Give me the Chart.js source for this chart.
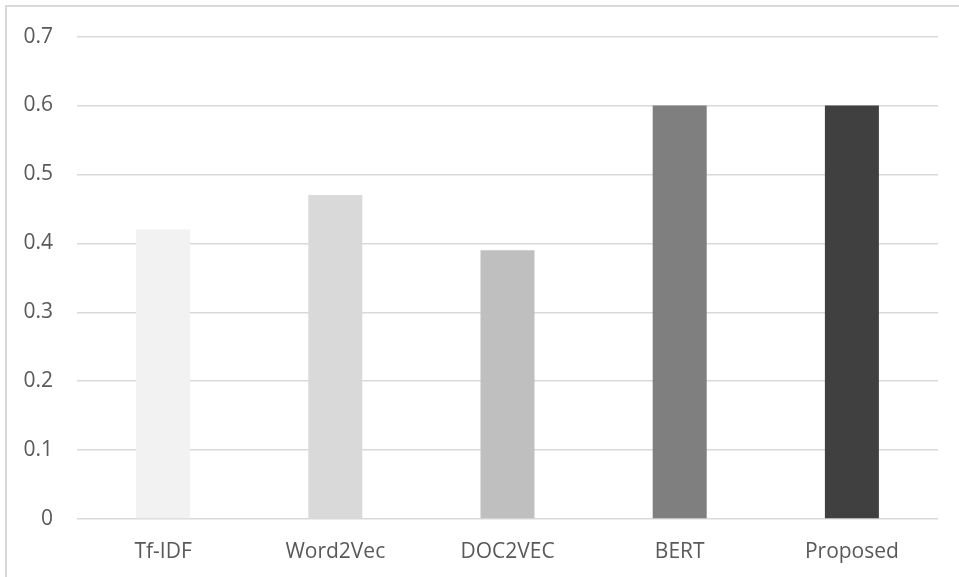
<!DOCTYPE html>
<html>
<head>
<meta charset="utf-8">
<script src="https://cdn.jsdelivr.net/npm/chart.js@4"></script>
<style>
  html, body { margin: 0; padding: 0; background: #fff; }
  #wrap { position: relative; width: 959px; height: 577px; overflow: hidden; }
  #frame { position: absolute; left: 5px; top: 5px; width: 1000px; height: 1000px;
    border-left: 2px solid #d9d9d9; border-top: 2px solid #d9d9d9; }
  canvas { position: absolute; left: 0; top: 0; }
</style>
</head>
<body>
<div id="wrap">
  <div id="frame"></div>
  <canvas id="chart" width="959" height="577"></canvas>
</div>
<script>
var categories = ['Tf-IDF', 'Word2Vec', 'DOC2VEC', 'BERT', 'Proposed']
var scores = [0.42, 0.47, 0.39, 0.60, 0.60]
var barColors = ['#f2f2f2', '#d9d9d9', '#bfbfbf', '#7f7f7f', '#404040']
var yTicks = [0, 0.1, 0.2, 0.3, 0.4, 0.5, 0.6, 0.7]

var font = { family: '"Open Sans", sans-serif', size: 21 }

new Chart(document.getElementById('chart'), {
  type: 'bar',
  data: {
    labels: categories,
    datasets: [{
      data: scores,
      backgroundColor: barColors,
      borderWidth: 0,
      categoryPercentage: 1,
      barPercentage: 0.3136
    }]
  },
  options: {
    responsive: false,
    animation: false,
    layout: { padding: { top: 34.5, right: 21, bottom: 0, left: 0 } },
    plugins: { legend: { display: false }, tooltip: { enabled: false } },
    scales: {
      x: {
        grid: { display: false, drawTicks: false },
        border: { display: false },
        ticks: { color: '#595959', font: font, padding: 20 },
        afterFit: function (s) { s.height = 58 }
      },
      y: {
        min: 0,
        max: yTicks[yTicks.length - 1],
        afterBuildTicks: function (s) {
          s.ticks = yTicks.map(function (v) { return { value: v } })
        },
        grid: { color: '#d9d9d9', lineWidth: 1.5, drawTicks: false },
        border: { display: false },
        ticks: {
          color: '#595959',
          font: font,
          padding: 24,
          callback: function (v) { return v === 0 ? '0' : v.toFixed(1) }
        },
        afterFit: function (s) { s.width = 77 }
      }
    }
  }
})
</script>
</body>
</html>
